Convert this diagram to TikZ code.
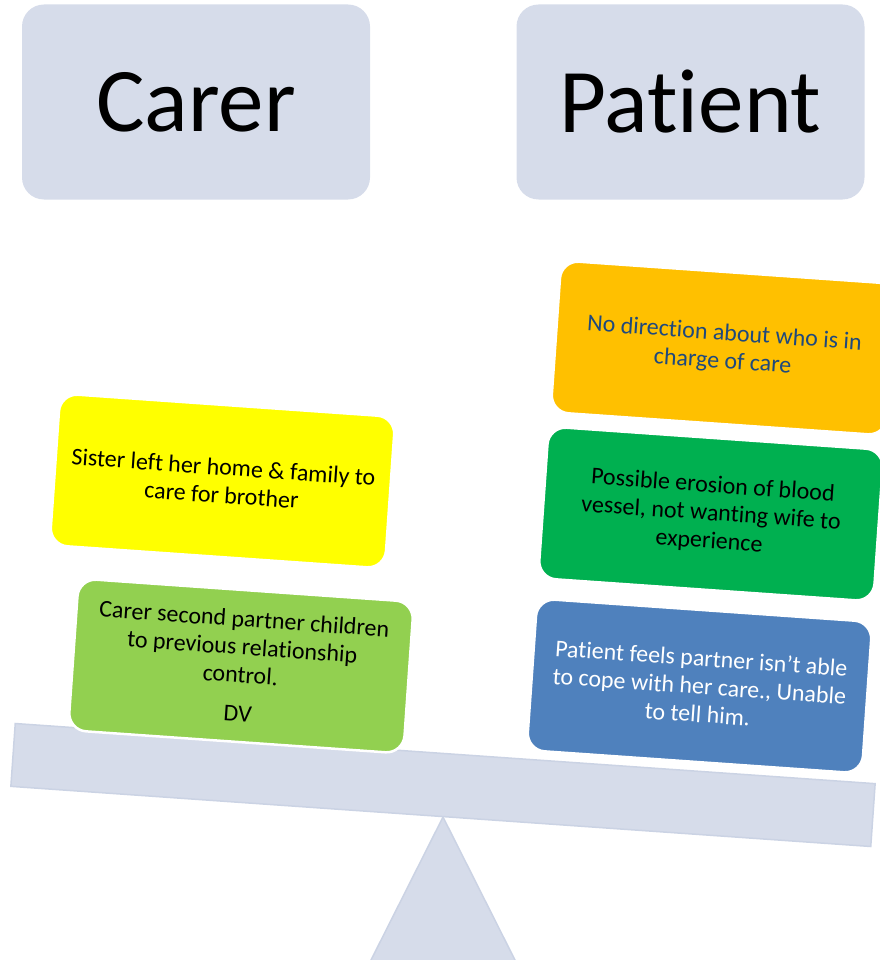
\documentclass[tikz,border=0pt]{standalone}
\usepackage{fontspec}
\setmainfont[Ligatures={NoCommon,NoRare,NoContextual}]{Carlito}
\definecolor{hdr}{RGB}{214,220,234}
\definecolor{beamd}{RGB}{203,211,228}
\definecolor{cyel}{RGB}{255,255,0}
\definecolor{clgr}{RGB}{146,208,80}
\definecolor{cora}{RGB}{255,192,0}
\definecolor{cgrn}{RGB}{0,176,80}
\definecolor{cblu}{RGB}{79,129,189}
\definecolor{ctxt}{RGB}{31,73,125}
\begin{document}
\begin{tikzpicture}[x=1pt,y=-1pt,
  header/.style={fill=hdr, rounded corners=22pt, minimum width=348pt,
    minimum height=195pt, inner sep=0pt, font=\fontsize{91}{100}\selectfont},
  item/.style={rounded corners=18pt, draw=white, line width=2.5pt,
    minimum width=336pt, minimum height=152pt, inner sep=0pt,
    align=center, rotate=-4, font=\fontsize{24}{28}\selectfont},
  beamstyle/.style={fill=hdr, draw=beamd, line width=1.5pt, inner sep=0pt}]
\useasboundingbox (0,0) rectangle (879,960);

% headers
\node[header] (carer) at (196,102) {Carer};
\node[header] (patient) at (690.5,102) {Patient};

% fulcrum and beam
\fill[hdr, draw=beamd, line width=1.5pt] (443,817) -- (517,964) -- (369,964) -- cycle;
\node[beamstyle, rotate=-4, minimum width=862pt, minimum height=63pt] (beam) at (443,785) {};

% carer side
\node[item, fill=cyel] (sister) at (222.5,481) {Sister left her home \& family to\\care for brother};
\node[item, fill=clgr] (partner) at (241,666) {Carer second partner children\\to previous relationship\\control.\\[11pt]DV};

% patient side
\node[item, fill=cora, text=ctxt] (direction) at (723.5,348) {No direction about who is in\\charge of care};
\node[item, fill=cgrn] (erosion) at (711,514) {Possible erosion of blood\\vessel, not wanting wife to\\experience};
\node[item, fill=cblu, text=white] (feels) at (699.5,686) {Patient feels partner isn’t able\\to cope with her care., Unable\\to tell him.};
\end{tikzpicture}
\end{document}
